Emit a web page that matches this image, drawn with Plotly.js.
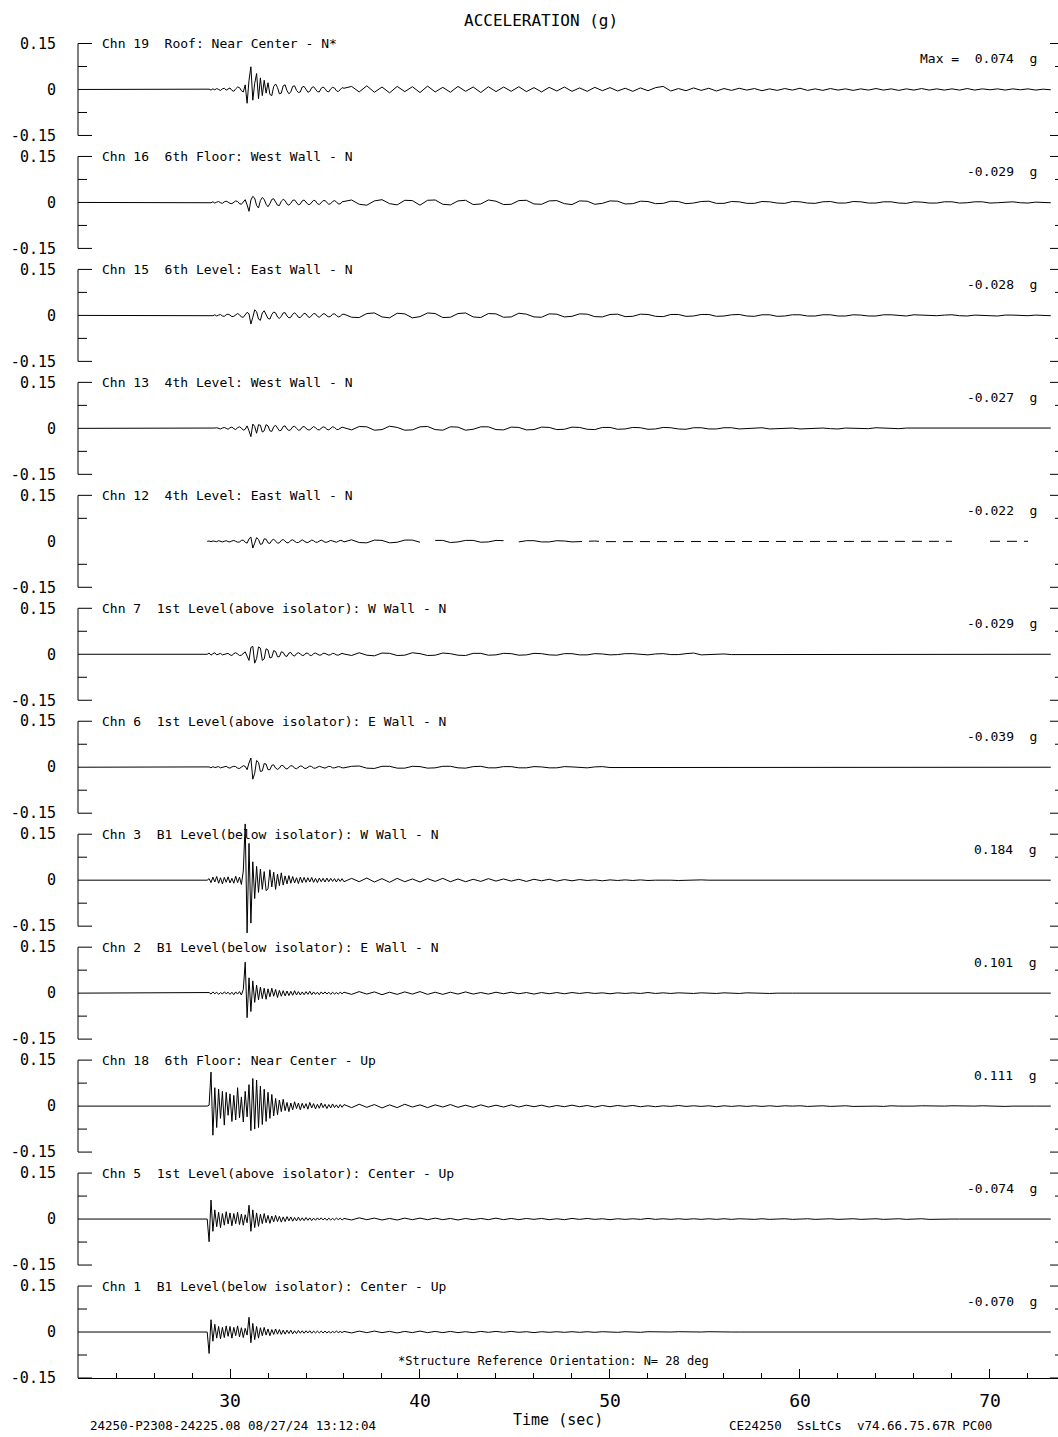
<!DOCTYPE html>
<html><head><meta charset="utf-8">
<script src="https://cdn.plot.ly/plotly-3.0.1.min.js"></script>
<style>html,body{margin:0;padding:0;background:#fff}#chart{width:1058px;height:1437px}</style>
</head><body><div id="chart"></div>
<script>
// ---------------- DATA (acceleration in milli-g, time in seconds) ----------------
const recordStart = 22;
const tDense = [28.8,28.9,
29,29.1,29.2,29.3,29.4,29.5,29.6,29.7,29.8,29.9,
30,30.1,30.2,30.3,30.4,30.5,30.6,30.7,30.8,30.9,
31,31.1,31.2,31.3,31.4,31.5,31.6,31.7,31.8,31.9,
32,32.1,32.2,32.3,32.4,32.5,32.6,32.7,32.8,32.9,
33,33.1,33.2,33.3,33.4,33.5,33.6,33.7,33.8,33.9,
34,34.1,34.2,34.3,34.4,34.5,34.6,34.7,34.8,34.9,
35,35.1,35.2,35.3,35.4,35.5,35.6,35.7,35.8,35.9,
36];
const tSparse = [36.4,36.8,37.2,37.6,38,38.4,38.8,39.2,39.6,40,
40.4,40.8,41.2,41.6,42,42.4,42.8,43.2,43.6,44,
44.4,44.8,45.2,45.6,46,46.4,46.8,47.2,47.6,48,
48.4,48.8,49.2,49.6,50,50.4,50.8,51.2,51.6,52,
52.4,52.8,53.2,53.6,54,54.4,54.8,55.2,55.6,56,
56.4,56.8,57.2,57.6,58,58.4,58.8,59.2,59.6,60,
60.4,60.8,61.2,61.6,62,62.4,62.8,63.2,63.6,64,
64.4,64.8,65.2,65.6,66,66.4,66.8,67.2,67.6,68,
68.4,68.8,69.2,69.6,70,70.4,70.8,71.2,71.6,72,
72.4,72.8,73.2];

const channelLabels = [
 'Chn 19  Roof: Near Center - N*',
 'Chn 16  6th Floor: West Wall - N',
 'Chn 15  6th Level: East Wall - N',
 'Chn 13  4th Level: West Wall - N',
 'Chn 12  4th Level: East Wall - N',
 'Chn 7  1st Level(above isolator): W Wall - N',
 'Chn 6  1st Level(above isolator): E Wall - N',
 'Chn 3  B1 Level(below isolator): W Wall - N',
 'Chn 2  B1 Level(below isolator): E Wall - N',
 'Chn 18  6th Floor: Near Center - Up',
 'Chn 5  1st Level(above isolator): Center - Up',
 'Chn 1  B1 Level(below isolator): Center - Up'];
const peakValues = ['0.074','-0.029','-0.028','-0.027','-0.022','-0.029','-0.039','0.184','0.101','0.111','-0.074','-0.070'];
const hasPreEvent = [true,true,true,true,false,true,true,true,true,true,true,true];
const ch12DashFrom = 48;
const yTickVals = [-0.15, 0, 0.15];
const yTickText = ['-0.15', '0', '0.15'];
const xTickVals = [30, 40, 50, 60, 70];

const ch19Dense = [0,1,
-2,2,-1,3,0,-3,2,4,-2,3,
5,-3,-6,2,8,6,-4,-8,15,-45,
30,74,-35,20,52,-30,38,-20,30,-12,
22,-16,-20,10,18,6,-14,-12,12,15,
-4,-14,-8,10,12,-3,-10,-8,8,10,
0,-9,-6,6,9,2,-7,-8,4,8,
3,-6,-8,2,7,5,-4,-7,0,6,
4];
const ch19Sparse = [10,-8,12,-9,8,-11,10,-7,9,-10,
11,-8,7,-9,10,-6,8,-10,9,-7,
8,-6,9,-7,6,-8,7,-5,8,-6,
5,-6,7,-4,6,-5,4,-6,5,-4,
6,10,-5,3,-4,5,-3,4,-5,3,
-3,4,-2,3,-4,2,-3,3,-2,4,
-3,2,-3,3,-2,2,-3,2,-2,3,
-2,2,-3,2,-2,3,-2,2,-2,2,
-2,3,-2,2,-1,2,-2,2,-1,2,
-2,1,-1];

const ch16Dense = [0,1,
-1,2,-2,1,3,-1,-3,2,4,1,
-3,-4,2,5,3,-4,-6,3,9,-8,
-29,8,20,14,-10,-18,6,16,10,-6,
-14,-4,10,12,2,-9,-10,4,10,6,
-5,-9,-3,7,8,-2,-8,-5,5,8,
2,-6,-7,1,7,5,-4,-7,-1,6,
6,-2,-6,-4,3,6,2,-5,-5,2,
3];
const ch16Sparse = [8,-6,-9,5,9,-4,-8,7,6,-9,
7,8,-6,-8,5,7,-7,-5,8,4,
-7,-6,6,7,-5,-6,5,6,-4,-7,
5,4,-6,-3,5,4,-5,-4,4,3,
-4,-3,4,3,-4,-2,3,4,-3,-3,
3,2,-3,-3,3,2,-2,-3,3,2,
-2,-3,2,3,-2,-2,3,2,-2,-2,
2,2,-2,-3,2,1,-2,-2,2,2,
-2,-1,2,2,-2,-1,1,2,-1,-2,
1,1,-1];

const ch15Dense = [0,0,
1,-1,2,-2,1,3,-2,-3,2,4,
1,-4,-3,3,6,2,-5,-6,4,10,
5,-28,-6,18,12,-12,-16,8,15,4,
-10,-12,3,11,8,-5,-10,-3,8,9,
-2,-8,-6,4,8,3,-6,-7,2,7,
5,-4,-7,-1,6,5,-3,-6,-1,5,
5,-2,-5,-3,4,5,0,-5,-3,3,
4];
const ch15Sparse = [-6,-7,6,8,-5,-8,7,5,-8,-4,
8,6,-7,-6,6,8,-5,-7,6,5,
-6,-5,7,4,-5,-6,5,4,-5,-3,
5,4,-4,-5,3,4,-4,-3,4,3,
-3,-4,3,3,-3,-2,3,3,-3,-2,
2,3,-2,-3,2,2,-3,-2,2,2,
-2,-2,2,2,-2,-2,2,1,-2,-2,
2,2,-1,-2,2,1,-2,-1,1,2,
-1,-2,1,1,-1,-2,1,1,-1,-1,
1,1,-1];

const ch13Dense = [0,0,
1,-1,1,2,-1,-2,1,3,0,-3,
2,4,-1,-4,2,5,1,-6,-3,8,
-8,-27,14,6,-16,12,10,-12,-8,12,
8,-8,-10,5,10,2,-8,-6,6,8,
-2,-7,-4,5,7,0,-6,-5,4,6,
1,-5,-5,2,6,2,-4,-5,1,5,
3,-3,-5,0,5,3,-3,-4,1,4,
2];
const ch13Sparse = [-5,6,5,-6,-4,7,3,-6,-5,5,
6,-4,-6,5,4,-6,-3,5,5,-4,
-5,4,3,-5,-4,4,3,-4,-3,4,
3,-3,-4,3,3,-3,-2,3,2,-3,
-2,3,2,-2,-3,2,2,-2,-2,2,
2,-2,-1,2,2,-2,-1,2,1,-2,
-1,2,1,-1,-2,1,1,-1,-1,2,
1,-1,-1,1,1,-1,-1,1,1,-1,
-1,1,1,-1,-1,1,0,-1,1,1,
-1,0,1];

const ch12Dense = [0,1,
-1,1,0,-1,2,1,-2,0,2,-1,
-2,1,3,0,-3,-2,3,4,-3,-6,
8,14,-22,-6,12,6,-10,-8,8,7,
-5,-7,3,7,2,-6,-5,3,6,1,
-5,-4,3,5,1,-4,-4,2,5,1,
-3,-4,1,4,2,-3,-3,1,4,1,
-3,-3,1,3,1,-2,-3,0,3,2,
-2];
const ch12Sparse = [5,-4,-5,4,3,-5,-3,4,4,-3,
null,3,3,-4,-2,3,3,-3,-2,3,
2,null,-2,2,2,-2,-2,2,1,-2,
-1,2,1,-1,-1,1,1,-1,-1,1,
1,-1,0,1,0,-1,0,1,0,-1,
0,0,0,0,0,0,0,0,0,0,
0,0,0,0,0,0,0,0,0,0,
0,0,0,0,0,0,0,0,0,0,
null,null,null,null,0,0,0,0,0,0,
null,null,null];

const ch7Dense = [0,4,
-3,2,5,-2,1,3,-2,-1,2,3,
-2,-4,2,5,1,-4,-3,4,8,-6,
-20,22,26,-29,-14,24,20,-20,-15,18,
14,-12,-10,12,9,-8,-8,8,6,-5,
-7,4,6,-3,-6,2,5,1,-4,-3,
4,3,-3,-4,2,4,0,-3,-2,3,
3,-1,-3,-1,3,2,-2,-3,1,3,
1];
const ch7Sparse = [-4,5,-3,-5,4,3,-4,-3,5,2,
-4,-3,4,2,-3,-4,3,3,-3,-2,
3,2,-3,-2,3,2,-2,-3,2,2,
-2,-2,2,1,-2,-1,2,2,-1,-2,
1,2,-1,-1,2,4,-2,-1,1,1,
-1,-1,1,1,-1,-1,1,1,-1,-1,
1,1,-1,-1,1,1,-1,0,1,0,
-1,0,1,0,-1,0,1,0,-1,0,
1,0,-1,0,1,0,-1,0,1,0,
0,0,0];

const ch6Dense = [0,1,
-2,2,-1,1,2,-2,-1,2,3,-1,
-3,1,3,2,-3,-4,2,5,3,-8,
14,30,-39,-20,22,16,-14,-12,12,10,
-8,-8,6,8,-3,-7,-3,6,5,-3,
-6,0,5,4,-3,-5,0,4,3,-3,
-4,1,4,2,-3,-3,1,3,1,-2,
-3,0,3,2,-2,-2,1,2,1,-2,
-2];
const ch6Sparse = [3,4,-3,-4,3,3,-3,-3,3,2,
-3,-2,3,3,-2,-3,2,3,-2,-2,
2,2,-2,-2,2,1,-2,-2,2,1,
-1,-2,1,2,-1,-1,1,1,-1,-1,
1,1,-1,-1,1,1,-1,-1,1,1,
-1,0,1,0,-1,0,1,0,-1,0,
1,0,-1,0,1,0,-1,0,1,0,
0,0,1,0,-1,0,0,0,1,0,
-1,0,0,0,1,0,-1,0,0,0,
0,0,0];

const ch3Dense = [0,5,
-8,10,-6,12,-10,8,-12,9,-7,11,
-9,6,-10,13,-8,10,-14,30,184,-172,
120,-140,60,-60,45,-40,36,-30,28,-34,
-28,34,-22,26,-30,20,-18,24,-16,14,
-12,15,-10,12,-9,8,-11,10,-8,9,
-7,8,-6,9,-7,6,-8,7,-5,6,
-6,7,-5,6,-4,5,-6,5,-4,5,
-5];
const ch3Sparse = [6,-5,7,-6,5,-7,6,-5,4,-6,
5,-4,6,-5,4,-5,3,-4,5,-3,
4,-3,3,-4,3,-2,3,-3,2,-2,
2,-1,1,-2,1,-1,1,-1,1,-1,
0,1,0,-1,0,0,1,0,0,0,
0,0,0,0,0,0,0,0,0,0,
0,0,0,0,0,0,0,0,0,0,
0,0,0,0,0,0,0,0,0,0,
0,0,0,0,0,0,0,0,0,0,
0,0,0];

const ch2Dense = [0,2,
-3,4,-2,3,-4,2,-3,4,-2,3,
-4,3,-5,4,-3,5,-6,12,101,-80,
50,-60,40,-30,26,-22,20,-18,16,-20,
14,-12,16,-10,12,-14,9,-10,8,-9,
7,-8,6,-7,8,-6,5,-6,4,-5,
5,-4,6,-5,4,-4,3,-5,4,-3,
4,-3,3,-4,3,-3,2,-3,3,-2,
3];
const ch2Sparse = [-4,5,-3,4,-5,3,-4,4,-3,5,
-4,3,-4,3,-3,4,-3,2,-3,3,
-2,3,-2,2,-3,2,-2,2,-2,2,
-1,2,-1,1,-2,1,-1,1,-1,2,
-1,1,-1,1,0,-1,1,0,-1,1,
0,-1,1,0,0,-1,0,1,0,0,
0,0,-1,0,1,0,0,0,-1,0,
0,1,0,0,0,-1,0,0,0,0,
0,0,0,0,0,0,0,0,0,0,
0,0,0];

const ch18Dense = [0,3,
111,-95,60,-70,55,-40,48,-62,45,-30,
40,-50,35,-45,60,-38,30,-52,48,-35,
70,-80,90,-75,85,-70,65,-60,55,-50,
45,-40,38,-32,25,-28,20,-18,22,-15,
12,-18,10,-12,14,-8,10,-12,9,-7,
8,-10,12,-6,8,-9,6,-7,10,-5,
6,-8,5,-6,7,-5,4,-6,5,-4,
5];
const ch18Sparse = [-5,6,-4,5,-6,4,-5,6,-3,4,
-5,4,-3,5,-4,3,-4,4,-3,3,
-3,4,-3,3,-2,3,-3,2,-2,3,
-2,2,-3,2,-2,2,-1,2,-2,1,
-2,1,-1,2,-1,1,-1,1,-2,1,
-1,1,-1,1,-1,1,-1,1,0,1,
-1,0,1,-1,0,1,-1,0,1,0,
-1,1,0,-1,0,1,0,-1,0,1,
0,-1,0,1,0,0,-1,0,1,0,
0,0,0];

const ch5Dense = [0,-74,
62,-40,30,-25,22,-28,18,-20,24,-16,
20,-22,18,-15,22,-18,16,-20,14,-12,
45,-40,30,-28,20,-24,16,-15,18,-12,
12,-14,10,-9,12,-8,9,-10,7,-8,
8,-6,7,-7,5,-6,6,-5,4,-5,
5,-4,4,-5,3,-4,4,-3,4,-3,
3,-4,3,-3,2,-3,3,-2,3,-3,
2];
const ch5Sparse = [-3,4,-2,3,-3,2,-3,3,-2,3,
-2,3,-2,2,-3,2,-2,2,-2,3,
-2,2,-2,2,-1,2,-2,1,-2,2,
-1,2,-1,1,-2,1,-1,1,-1,2,
-1,1,-1,1,-1,1,-1,1,-1,1,
-1,1,0,-1,1,-1,0,1,-1,0,
1,-1,0,1,-1,0,1,-1,0,1,
-1,0,1,-1,0,1,-1,0,1,0,
0,0,0,0,0,0,0,0,0,0,
0,0,0];

const ch1Dense = [0,-70,
40,-30,25,-20,18,-22,15,-18,20,-14,
18,-20,15,-12,20,-16,14,-18,12,-10,
48,-35,28,-25,18,-20,14,-12,15,-10,
10,-12,8,-8,10,-7,8,-8,6,-7,
6,-5,6,-6,4,-5,5,-4,4,-4,
4,-3,4,-4,3,-3,3,-3,3,-3,
3,-3,2,-3,2,-2,3,-2,2,-2,
2];
const ch1Sparse = [-3,3,-2,3,-2,2,-3,2,-2,3,
-2,2,-2,2,-2,1,-2,2,-1,2,
-1,2,-1,1,-2,1,-1,1,-1,1,
-1,1,-1,1,0,-1,1,0,-1,1,
0,-1,0,1,0,-1,0,1,0,0,
0,0,0,0,0,0,0,0,0,0,
0,0,0,0,0,0,0,0,0,0,
0,0,0,0,0,0,0,0,0,0,
0,0,0,0,0,0,0,0,0,0,
0,0,0];

const denseSeries = [ch19Dense,ch16Dense,ch15Dense,ch13Dense,ch12Dense,ch7Dense,ch6Dense,ch3Dense,ch2Dense,ch18Dense,ch5Dense,ch1Dense];
const sparseSeries = [ch19Sparse,ch16Sparse,ch15Sparse,ch13Sparse,ch12Sparse,ch7Sparse,ch6Sparse,ch3Sparse,ch2Sparse,ch18Sparse,ch5Sparse,ch1Sparse];

// ---------------- LAYOUT ----------------
const MONO = "'DejaVu Sans Mono', 'Liberation Mono', monospace";
const N = channelLabels.length;
const plotL = 78, plotW = 980, plotT = 32.5, plotH = 1345.5, pitch = 113;
const yHalf = pitch / 2 / (46 / 0.15); // half panel height in g
const nb = s => s.replace(/ /g, '\u00a0');
const px2paperX = px => (px - plotL) / plotW;
const px2paperY = px => 1 - (px - plotT) / plotH;

const traces = [], shapes = [], annotations = [];
const layout = {
  width: 1058, height: 1437,
  margin: {l: plotL, r: 1058 - plotL - plotW, t: plotT, b: 1437 - plotT - plotH, pad: 0},
  paper_bgcolor: '#fff', plot_bgcolor: '#fff',
  showlegend: false, hovermode: false,
  font: {family: MONO, color: '#000'},
  xaxis: {
    domain: [0, 1], range: [22, 73.58], anchor: 'y' + N,
    showline: true, linecolor: '#000', linewidth: 1,
    ticks: 'inside', ticklen: 9, tickwidth: 1, tickcolor: '#000',
    tickvals: xTickVals, ticktext: xTickVals.map(String),
    minor: {ticks: 'inside', ticklen: 5, tickwidth: 1, tickcolor: '#000', dtick: 2, tick0: 0, showgrid: false},
    showgrid: false, zeroline: false, fixedrange: true,
    tickfont: {family: MONO, size: 18, color: '#000'},
    ticklabelstandoff: 6
  }
};

for (let i = 0; i < N; i++) {
  const ax = i === 0 ? 'y' : 'y' + (i + 1);
  const key = i === 0 ? 'yaxis' : 'yaxis' + (i + 1);
  const topPx = i * pitch, botPx = i < N - 1 ? (i + 1) * pitch : plotH;
  layout[key] = {
    domain: [1 - botPx / plotH, 1 - topPx / plotH],
    range: i < N - 1 ? [-yHalf, yHalf] : [-0.15, yHalf],
    anchor: 'x', tickvals: yTickVals, ticktext: yTickText,
    ticks: 'outside', ticklen: 18, tickcolor: 'rgba(0,0,0,0)',
    showline: false, showgrid: false, zeroline: false, fixedrange: true,
    tickfont: {family: MONO, size: 15, color: '#000'}
  };
  // trace data
  const xs = [], ys = [];
  if (hasPreEvent[i]) { xs.push(recordStart); ys.push(0); }
  tDense.forEach((t, k) => { xs.push(t); ys.push(denseSeries[i][k] === null ? null : denseSeries[i][k] / 1000); });
  tSparse.forEach((t, k) => { xs.push(t); ys.push(sparseSeries[i][k] === null ? null : sparseSeries[i][k] / 1000); });
  if (channelLabels[i].startsWith('Chn 12 ')) {
    const sx = [], sy = [], dx = [], dy = [];
    xs.forEach((t, k) => {
      if (t <= ch12DashFrom) { sx.push(t); sy.push(ys[k]); }
      if (t >= ch12DashFrom) { dx.push(t); dy.push(ys[k]); }
    });
    traces.push({type: 'scatter', mode: 'lines', x: sx, y: sy, xaxis: 'x', yaxis: ax, line: {color: '#000', width: 1}, hoverinfo: 'skip', connectgaps: false});
    traces.push({type: 'scatter', mode: 'lines', x: dx, y: dy, xaxis: 'x', yaxis: ax, line: {color: '#000', width: 1, dash: '10px,7px'}, hoverinfo: 'skip', connectgaps: false});
  } else {
    traces.push({type: 'scatter', mode: 'lines', x: xs, y: ys, xaxis: 'x', yaxis: ax, line: {color: '#000', width: 1}, hoverinfo: 'skip'});
  }
  // left axis bracket and ticks
  const ln = {color: '#000', width: 1};
  shapes.push({type: 'line', xref: 'paper', yref: ax, x0: 0, x1: 0, y0: -0.15, y1: 0.15, line: ln});
  [[0.15, 14], [-0.15, 14], [0.075, 9], [-0.075, 9]].forEach(([v, len]) => {
    shapes.push({type: 'line', xref: 'paper', yref: ax, xsizemode: 'pixel', xanchor: 0, x0: 0, x1: len, y0: v, y1: v, line: ln});
  });
  [[0.15, 8], [-0.15, 8], [0.075, 3], [-0.075, 3]].forEach(([v, len]) => {
    shapes.push({type: 'line', xref: 'paper', yref: ax, xsizemode: 'pixel', xanchor: 1, x0: -len, x1: 0, y0: v, y1: v, line: ln});
  });
  // labels
  annotations.push({text: nb(channelLabels[i]), xref: 'paper', yref: ax, x: px2paperX(100), y: 0.15,
    xanchor: 'left', yanchor: 'middle', showarrow: false, font: {family: MONO, size: 13, color: '#000'}});
  const vt = (i === 0 ? 'Max =  ' : '') + peakValues[i] + '  g';
  annotations.push({text: nb(vt), xref: 'paper', yref: ax, x: px2paperX(1039), y: 0.15, yshift: -15,
    xanchor: 'right', yanchor: 'middle', showarrow: false, font: {family: MONO, size: 13, color: '#000'}});
}

annotations.push({text: nb('ACCELERATION (g)'), xref: 'paper', yref: 'paper', x: px2paperX(541), y: px2paperY(20),
  xanchor: 'center', yanchor: 'middle', showarrow: false, font: {family: MONO, size: 16, color: '#000'}});
annotations.push({text: nb('Time (sec)'), xref: 'paper', yref: 'paper', x: px2paperX(558), y: px2paperY(1420),
  xanchor: 'center', yanchor: 'middle', showarrow: false, font: {family: MONO, size: 15, color: '#000'}});
annotations.push({text: nb('*Structure Reference Orientation: N= 28 deg'), xref: 'paper', yref: 'paper', x: px2paperX(396), y: px2paperY(1361),
  xanchor: 'left', yanchor: 'middle', showarrow: false, font: {family: MONO, size: 12, color: '#000'}});
annotations.push({text: nb('24250-P2308-24225.08 08/27/24 13:12:04'), xref: 'paper', yref: 'paper', x: px2paperX(88), y: px2paperY(1426),
  xanchor: 'left', yanchor: 'middle', showarrow: false, font: {family: MONO, size: 12.5, color: '#000'}});
annotations.push({text: nb('CE24250  SsLtCs  v74.66.75.67R PC00'), xref: 'paper', yref: 'paper', x: px2paperX(727), y: px2paperY(1426),
  xanchor: 'left', yanchor: 'middle', showarrow: false, font: {family: MONO, size: 12.5, color: '#000'}});

layout.shapes = shapes;
layout.annotations = annotations;

Plotly.newPlot('chart', traces, layout, {staticPlot: true, displayModeBar: false});
</script>
</body></html>
